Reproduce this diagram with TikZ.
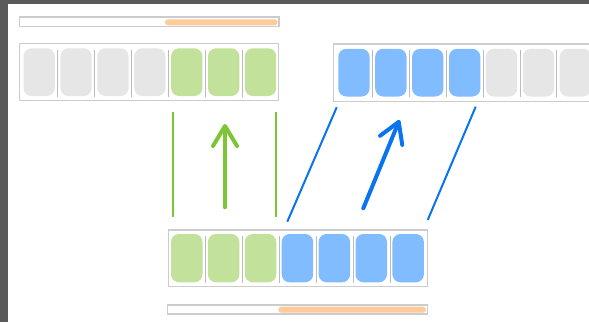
\documentclass[tikz,border=0pt]{standalone}
\usetikzlibrary{arrows.meta}
\definecolor{frameg}{HTML}{5A5A5A}
\definecolor{boxg}{HTML}{CCCCCC}
\definecolor{divg}{HTML}{BBBBBB}
\definecolor{cellg}{HTML}{E6E6E6}
\definecolor{cellgreen}{HTML}{C2E29B}
\definecolor{cellblue}{HTML}{80BCFF}
\definecolor{barorange}{HTML}{FFCC99}
\definecolor{lgreen}{HTML}{7DC535}
\definecolor{lblue}{HTML}{0A73F0}
\tikzset{
  outerbox/.style={draw=boxg, line width=1.5pt, fill=white},
  divider/.style={draw=divg, line width=1pt},
  cellbox/.style={rounded corners=8pt},
  progress/.style={fill=barorange, rounded corners=3pt},
  gline/.style={draw=lgreen, line width=2pt},
  bline/.style={draw=lblue, line width=2pt},
  garrow/.style={draw=lgreen, line width=4pt, line cap=round, -{Straight Barb[length=20pt,width=24pt,line cap=round,line join=round]}},
  barrow/.style={draw=lblue, line width=4pt, line cap=round, -{Straight Barb[length=20pt,width=24pt,line cap=round,line join=round]}},
}
\begin{document}
\begin{tikzpicture}[x=1pt,y=-1pt]
\useasboundingbox (0,0) rectangle (589,322);
\fill[white] (0,0) rectangle (589,322);
\begin{scope}
\clip (0,0) rectangle (589,322);
% frame
\fill[frameg] (0,0) rectangle (589,4);
\fill[frameg] (0,0) rectangle (8,322);
% top progress bar
\draw[outerbox] (19.3,17) rectangle (279,26.7);
\fill[progress] (165,19.3) rectangle (277.7,25.3);
% bottom progress bar
\draw[outerbox] (167.5,305) rectangle (427.5,314);
\fill[progress] (278.3,306.7) rectangle (426,312.7);
% top-left array
\draw[outerbox] (19.3,43.7) rectangle (278.3,100.7);
\foreach \i in {0,...,6} {
  \pgfmathsetmacro{\xs}{23.5+36.9*\i}
  \ifnum\i<4 \def\cc{cellg}\else\def\cc{cellgreen}\fi
  \fill[cellbox, fill=\cc] (\xs,48.3) rectangle ++(31.3,47.7);
}
\foreach \i in {0,...,5} {
  \pgfmathsetmacro{\xd}{57.5+36.9*\i}
  \draw[divider] (\xd,49.5) -- (\xd,96.7);
}
% top-right array
\draw[outerbox] (333.3,44) rectangle (592.3,101.3);
\foreach \i in {0,...,6} {
  \pgfmathsetmacro{\xs}{338.3+36.9*\i}
  \ifnum\i<4 \def\cc{cellblue}\else\def\cc{cellg}\fi
  \fill[cellbox, fill=\cc] (\xs,48.8) rectangle ++(31.3,47.7);
}
\foreach \i in {0,...,5} {
  \pgfmathsetmacro{\xd}{372.4+36.9*\i}
  \draw[divider] (\xd,50) -- (\xd,97.2);
}
% bottom array
\draw[outerbox] (168.3,230) rectangle (427.3,286.7);
\foreach \i in {0,...,6} {
  \pgfmathsetmacro{\xs}{171+36.9*\i}
  \ifnum\i<3 \def\cc{cellgreen}\else\def\cc{cellblue}\fi
  \fill[cellbox, fill=\cc] (\xs,234) rectangle ++(31.5,48.3);
}
\foreach \i in {0,...,5} {
  \pgfmathsetmacro{\xd}{205.7+36.9*\i}
  \draw[divider] (\xd,235.5) -- (\xd,282.5);
}
\end{scope}
% connector lines
\coordinate (gl1) at (172.7,112.3); \coordinate (gl2) at (172.7,216.7);
\coordinate (gr1) at (276,112.3);   \coordinate (gr2) at (276,216.7);
\coordinate (ga1) at (225,207.3);   \coordinate (ga2) at (225,124);
\coordinate (bl1) at (287.3,221.7); \coordinate (bl2) at (336.7,107.3);
\coordinate (br1) at (427.7,220);   \coordinate (br2) at (475.7,106.7);
\coordinate (ba1) at (363.3,208.3); \coordinate (ba2) at (399.5,120);
\draw[gline] (gl1) -- (gl2);
\draw[gline] (gr1) -- (gr2);
\draw[garrow] (ga1) -- (ga2);
\draw[bline] (bl1) -- (bl2);
\draw[bline] (br1) -- (br2);
\draw[barrow] (ba1) -- (ba2);
\end{tikzpicture}
\end{document}
